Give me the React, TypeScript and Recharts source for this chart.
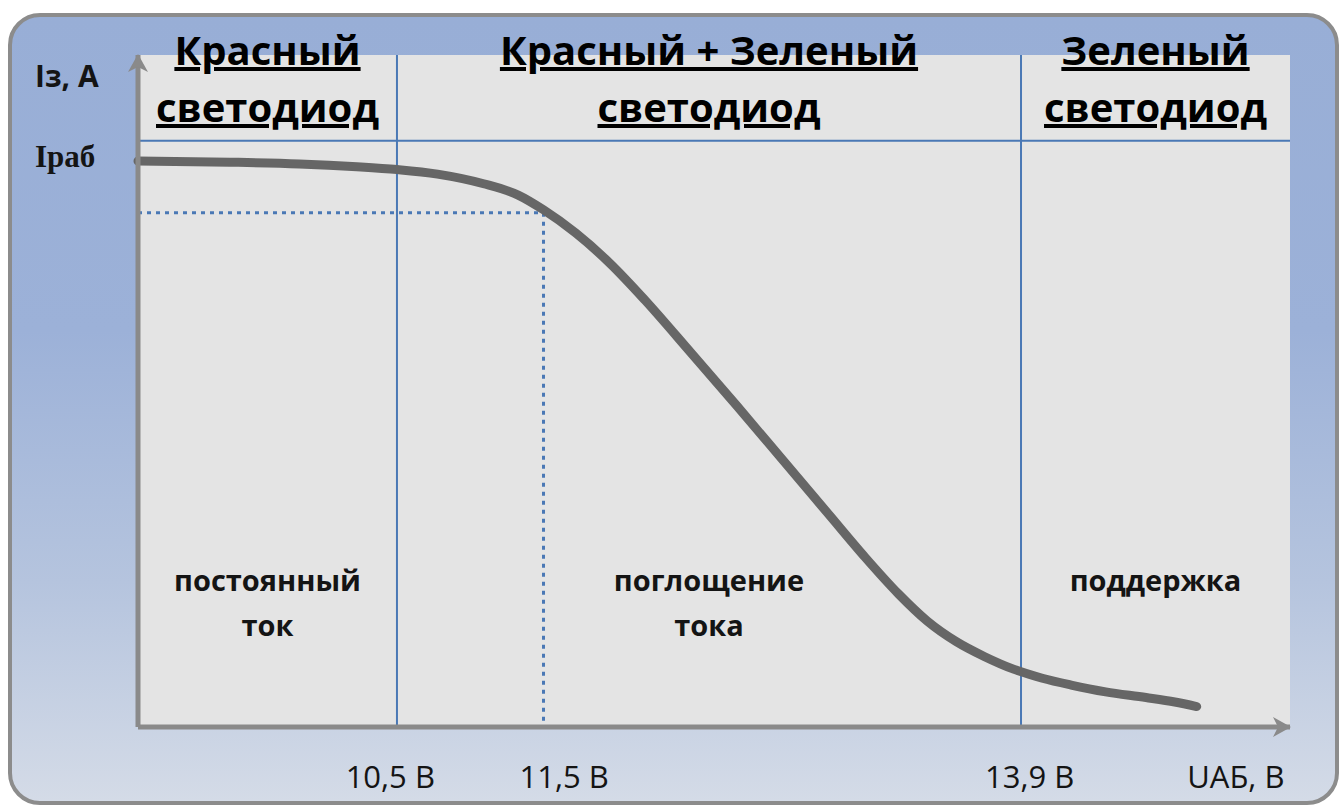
import React from 'react';
import { LineChart, Line, XAxis, YAxis, ReferenceArea, ReferenceLine } from 'recharts';

// schematic position along the voltage axis (0..100 across the plot) and current relative to Iраб
const curveX = [0, 8, 14, 19, 22.5, 26, 30, 33, 35.2, 38, 41, 44, 48, 52, 56, 60, 63, 66, 68.5, 71, 73.5, 76, 78.5, 81, 84, 87.5, 90, 91.9];
const curveI = [0.998, 0.996, 0.993, 0.988, 0.983, 0.975, 0.958, 0.938, 0.912, 0.871, 0.817, 0.753, 0.66, 0.566, 0.47, 0.374, 0.302, 0.235, 0.187, 0.151, 0.124, 0.102, 0.086, 0.074, 0.062, 0.052, 0.044, 0.036];

const zoneBounds = [0, 22.48, 76.65, 100];
const zoneHeaders = [
  ['Красный', 'светодиод'],
  ['Красный + Зеленый', 'светодиод'],
  ['Зеленый', 'светодиод'],
];
const zoneModes = [
  ['постоянный', 'ток'],
  ['поглощение', 'тока'],
  ['поддержка'],
];

const headerLevel = 1.034;
const workPoint = { x: 35.2, y: 0.907 };

const xTickPos = [21.9, 37.0, 77.4, 95.3];
const xTickLabels = ['10,5 В', '11,5 В', '13,9 В', 'UАБ, В'];
const yTickPos = [1.0, 1.15];
const yTickLabels = ['Iраб', 'Iз, А'];

const data = curveX.map((x, i) => ({ x, i: curveI[i] }));

const BLUE = '#4a78b5';
const AXIS = '#8a8a8a';
const TXT = '#141414';
const SANS = '"Open Sans", "Noto Sans", sans-serif';

const HeaderLabel = (lines: string[]) => (props: any) => {
  const { x, y, width } = props.viewBox;
  const cx = x + width / 2;
  return (
    <g>
      {lines.map((t, k) => (
        <text key={k} x={cx} y={y + 10 + k * 57} textAnchor="middle" fontFamily={SANS} fontWeight={700}
          fontSize={40} fill="#000"
          style={{ textDecoration: 'underline', textDecorationThickness: '3px', textUnderlineOffset: '3px' }}>{t}</text>
      ))}
    </g>
  );
};

const ModeLabel = (lines: string[]) => (props: any) => {
  const { x, y, width, height } = props.viewBox;
  const cx = x + width / 2;
  const base = y + height - 136;
  return (
    <g>
      {lines.map((t, k) => (
        <text key={k} x={cx} y={base + k * 45} textAnchor="middle" fontFamily={SANS} fontWeight={700}
          fontSize={29} fill={TXT}>{t}</text>
      ))}
    </g>
  );
};

const XTick = (props: any) => {
  const { x, y, index } = props;
  return (
    <text x={x} y={y + 61} textAnchor="middle" fontFamily={SANS} fontSize={31} fill={TXT}>
      {xTickLabels[index]}
    </text>
  );
};

const YTick = (props: any) => {
  const { x, y, index } = props;
  if (index === 0) {
    return (
      <text x={x - 103} y={y + 7} fontFamily='"Liberation Serif", serif' fontWeight={700} fontSize={31} fill={TXT}>
        {yTickLabels[0]}
      </text>
    );
  }
  return (
    <text x={x - 103} y={y + 12} fontFamily={SANS} fontWeight={700} fontSize={30} fill={TXT}>
      {yTickLabels[1]}
    </text>
  );
};

export default function App() {
  return (
    <div style={{ position: 'relative', width: 1340, height: 807, overflow: 'hidden' }}>
      <style>{`body{margin:0}`}</style>
      {/* rounded frame behind the chart */}
      <div style={{
        position: 'absolute', left: 8, top: 13, width: 1331, height: 792, boxSizing: 'border-box',
        border: '4px solid #8c8c8c', borderRadius: 32,
        background: 'linear-gradient(to bottom, #98aed6 0%, #9cb1d8 40%, #b5c4de 72%, #d4dbe7 100%)',
      }} />
      <div style={{ position: 'absolute', left: 0, top: 0 }}>
        <LineChart width={1340} height={807} data={data} margin={{ top: 55, right: 50, bottom: 50, left: 78 }}>
          <defs>
            <marker id="arrowHead" viewBox="0 0 18 20" refX={17} refY={10} markerWidth={18} markerHeight={20}
              markerUnits="userSpaceOnUse" orient="auto-start-reverse">
              <path d="M0,0 L18,10 L0,20 L5,10 Z" fill={AXIS} />
            </marker>
          </defs>
          <XAxis type="number" dataKey="x" domain={[0, 100]} ticks={xTickPos} tick={<XTick />} height={30}
            tickLine={false} tickSize={0} tickMargin={0} interval={0}
            axisLine={{ stroke: AXIS, strokeWidth: 5, markerEnd: 'url(#arrowHead)' }} />
          <YAxis type="number" domain={[0, 1.185]} ticks={yTickPos} tick={<YTick />} width={60}
            tickLine={false} tickSize={0} tickMargin={0} interval={0}
            axisLine={{ stroke: AXIS, strokeWidth: 5, markerStart: 'url(#arrowHead)' }} />
          <ReferenceArea x1={0} x2={100} y1={0} y2={1.185} fill="#e4e4e4" fillOpacity={1} stroke="none" />
          {zoneHeaders.map((h, k) => (
            <ReferenceArea key={'h' + k} x1={zoneBounds[k]} x2={zoneBounds[k + 1]} y1={headerLevel} y2={1.185}
              fillOpacity={0} stroke="none" ifOverflow="visible" label={{ content: HeaderLabel(h) }} />
          ))}
          {zoneModes.map((m, k) => (
            <ReferenceArea key={'m' + k} x1={zoneBounds[k]} x2={zoneBounds[k + 1]} y1={0} y2={headerLevel}
              fillOpacity={0} stroke="none" label={{ content: ModeLabel(m) }} />
          ))}
          <ReferenceLine y={headerLevel} stroke={BLUE} strokeWidth={2} />
          <ReferenceLine x={zoneBounds[1]} stroke={BLUE} strokeWidth={2} />
          <ReferenceLine x={zoneBounds[2]} stroke={BLUE} strokeWidth={2} />
          <ReferenceLine segment={[{ x: 0, y: workPoint.y }, { x: workPoint.x, y: workPoint.y }]}
            stroke={BLUE} strokeWidth={3} strokeDasharray="4 5" />
          <ReferenceLine segment={[{ x: workPoint.x, y: workPoint.y }, { x: workPoint.x, y: 0 }]}
            stroke={BLUE} strokeWidth={3} strokeDasharray="4 5" />
          <Line type="monotone" dataKey="i" stroke="#666666" strokeWidth={9} strokeLinecap="round"
            dot={false} activeDot={false} isAnimationActive={false} />
        </LineChart>
      </div>
    </div>
  );
}
